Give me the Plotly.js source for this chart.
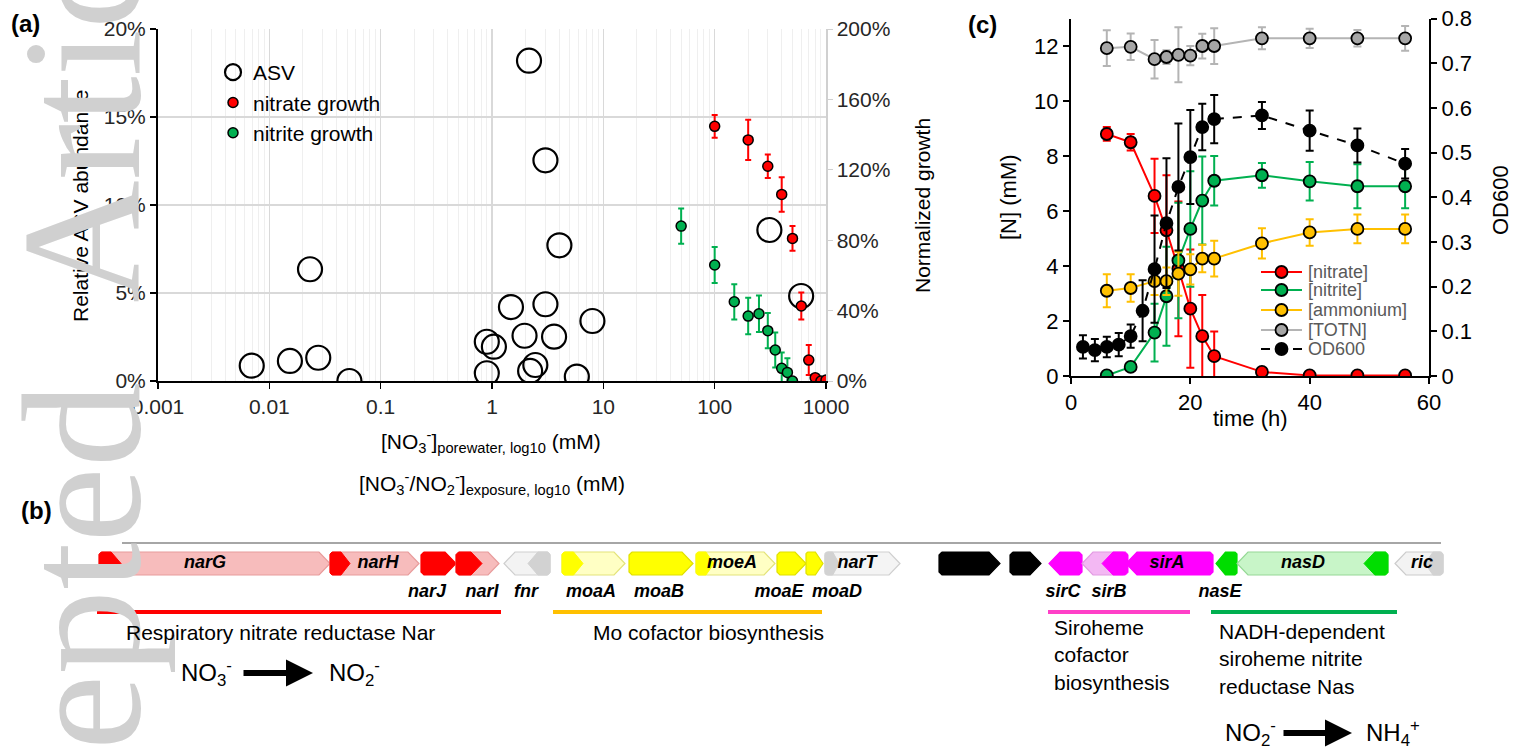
<!DOCTYPE html>
<html>
<head>
<meta charset="utf-8">
<script src="https://cdn.plot.ly/plotly-3.0.1.min.js"></script>
<style>html,body{margin:0;padding:0;background:#fff;}#chart{width:1523px;height:751px;}</style>
</head>
<body>
<div id="chart"></div>
<script>
// ---------------- Panel (a) data ----------------
const asvX = [0.00695, 0.0153, 0.0275, 0.0232, 0.0524, 2.15, 3.02, 4.03, 1.48, 3.02, 7.98, 0.898, 1.04, 1.96, 3.61, 0.898, 2.45, 2.2, 5.78, 310, 598];
const asvY = [0.87, 1.14, 1.32, 6.35, 0.0, 18.2, 12.54, 7.71, 4.2, 4.36, 3.41, 2.23, 1.95, 2.57, 2.52, 0.44, 0.91, 0.57, 0.25, 8.58, 4.83];

const nitrateExpX = [100, 200, 300, 400, 500, 600, 700, 800, 900, 1000];
const nitrateGrowth = [144.7, 137, 122, 106, 81, 42.6, 11.9, 1.9, 0, 0.5];
const nitrateGrowthErr = [6.5, 11.5, 6.7, 9.8, 7, 7.7, 8.5, 0, 0, 0];

const nitriteExpX = [50, 100, 150, 200, 250, 300, 350, 400, 450, 500];
const nitriteGrowth = [88, 65.9, 45, 36.9, 38.2, 28.6, 17.6, 7.2, 4.9, 0];
const nitriteGrowthErr = [10, 10.2, 10, 10.4, 10.4, 10, 10, 9, 8, 0];

const aXTickVals = [0.001, 0.01, 0.1, 1, 10, 100, 1000];
const aXTickText = ['0.001', '0.01', '0.1', '1', '10', '100', '1000'];
const aYTickVals = [0, 5, 10, 15, 20];
const aYTickText = ['0%', '5%', '10%', '15%', '20%'];
const aY2TickVals = [0, 40, 80, 120, 160, 200];
const aY2TickText = ['0%', '40%', '80%', '120%', '160%', '200%'];

// ---------------- Panel (c) data ----------------
const tN = [6, 10, 14, 16, 18, 20, 22, 24, 32, 40, 48, 56];
const nitrate = [8.8, 8.5, 6.55, 5.3, 3.9, 2.45, 1.45, 0.72, 0.15, 0.02, 0.02, 0.02];
const nitrateErr = [0.25, 0.3, 1.35, 2.0, 2.45, 2.15, 1.5, 0.9, 0.1, 0.05, 0.05, 0.05];
const nitrite = [0.02, 0.33, 1.58, 2.9, 4.2, 5.35, 6.38, 7.1, 7.3, 7.08, 6.9, 6.9];
const nitriteErr = [0.05, 0.1, 1.05, 1.8, 2.1, 2.1, 1.6, 0.9, 0.45, 0.7, 0.8, 0.8];
const ammonium = [3.1, 3.2, 3.45, 3.45, 3.72, 3.88, 4.27, 4.27, 4.82, 5.22, 5.35, 5.35];
const ammoniumErr = [0.6, 0.5, 0.5, 0.5, 0.8, 0.55, 0.5, 0.65, 0.55, 0.48, 0.52, 0.52];
const totn = [11.92, 11.97, 11.52, 11.6, 11.68, 11.65, 12.0, 12.0, 12.28, 12.28, 12.28, 12.28];
const totnErr = [0.65, 0.48, 0.7, 0.25, 1.0, 0.35, 0.45, 0.65, 0.4, 0.35, 0.3, 0.45];
const tOD = [2, 4, 6, 8, 10, 12, 14, 16, 18, 20, 22, 24, 32, 40, 48, 56];
const od600 = [0.065, 0.058, 0.065, 0.07, 0.089, 0.146, 0.239, 0.342, 0.423, 0.49, 0.557, 0.575, 0.583, 0.549, 0.516, 0.475];
const od600Err = [0.026, 0.025, 0.023, 0.026, 0.026, 0.068, 0.12, 0.145, 0.142, 0.105, 0.052, 0.054, 0.03, 0.045, 0.038, 0.033];
const cSeriesNames = ['[nitrate]', '[nitrite]', '[ammonium]', '[TOTN]', 'OD600'];

// ---------------- Panel (b) gene map data ----------------
const geneNames  = ['narG','narH','narJ','narI','fnr','moaA','moaB','moeA','moaE','moaD','narT','','','sirC','sirB','sirA','nasE','nasD','ric'];
const geneStart  = [99, 330, 421, 456, 504, 562, 629, 696, 777, 806, 825, 939, 1010, 1049, 1082, 1126, 1216, 1237, 1395];
const geneEnd    = [330, 419, 456, 499, 550, 625, 693, 775, 806, 823, 900, 1000, 1041, 1082, 1126, 1213, 1237, 1388, 1443];
const geneStrand = [1, 1, 1, 1, -1, 1, 1, 1, 1, 1, 1, 1, 1, -1, -1, -1, -1, -1, -1];
const geneFill   = ['#f7bcbc','#f7bcbc','#ff0000','#f7bcbc','#f3f3f3','#ffffc4','#ffff00','#ffffc4','#ffff00','#ffff00','#f4f4f4','#000000','#000000','#ff00ff','#f3b8f3','#ff00ff','#00dd00','#c8f5c8','#f3f3f3'];
const geneStroke = ['#e89c9c','#e89c9c','#ff0000','#e89c9c','#cfcfcf','#e3e37a','#e0e000','#e3e37a','#e0e000','#e0e000','#cfcfcf','#000000','#000000','#ff00ff','#e29be2','#ff00ff','#00dd00','#95d895','#cccccc'];
const domStart   = [99, 330, null, 456, 528, 562, null, 696, null, null, 825, null, null, null, 1102, null, null, 1364, 1425];
const domEnd     = [121, 350, null, 482, 550, 583, null, 714, null, null, 839, null, null, null, 1128, null, null, 1388, 1443];
const domColor   = ['#ff0000','#ff0000',null,'#ff0000','#d2d2d2','#ffff00',null,'#ffff00',null,null,'#d2d2d2',null,null,null,'#ff00ff',null,null,'#00dd00','#d2d2d2'];
const geneLabelX = [205, 378, 427, 482, 526, 591, 659, 732, 779, 837, 857, null, null, 1063, 1109, 1167, 1220, 1303, 1422];
const geneLabelIn = [true, true, false, false, false, false, false, true, false, false, true, null, null, false, false, true, false, true, true];
const contigStart = 122, contigEnd = 1441;
const groupStart = [97, 553, 1048, 1211];
const groupEnd   = [501, 822, 1190, 1397];
const groupColor = ['#ff0000', '#ffc000', '#ff40c8', '#00b050'];

// ---------------- layout constants ----------------
const W = 1523, H = 751;
const px = v => v / W;
const py = v => 1 - v / H;
const FONT = 'Liberation Sans, Arial, sans-serif';
const GENE_TOP = 552, GENE_BOT = 575, BASE_Y = 543, UNDER_Y = 612;
const LEG_C_Y = [272, 290, 310, 330, 349];
const LEG_C_X0 = 1261, LEG_C_X1 = 1302, LEG_C_TX = 1306;

const traces = [];

// Panel (a)
traces.push({
  type: 'scatter', mode: 'markers', name: 'ASV', x: asvX, y: asvY, xaxis: 'x', yaxis: 'y',
  marker: {symbol: 'circle-open', size: 24, color: '#000', line: {width: 2.2, color: '#000'}}
});
traces.push({
  type: 'scatter', mode: 'markers', name: 'nitrate growth', x: nitrateExpX, y: nitrateGrowth, xaxis: 'x', yaxis: 'y4',
  marker: {size: 10, color: '#ff0000', line: {width: 1.5, color: '#000'}},
  error_y: {type: 'data', array: nitrateGrowthErr, color: '#ff0000', thickness: 2, width: 3}
});
traces.push({
  type: 'scatter', mode: 'markers', name: 'nitrite growth', x: nitriteExpX, y: nitriteGrowth, xaxis: 'x', yaxis: 'y4',
  marker: {size: 10, color: '#00b050', line: {width: 1.5, color: '#000'}},
  error_y: {type: 'data', array: nitriteGrowthErr, color: '#00b050', thickness: 2, width: 3}
});

// Panel (c)
const cStyles = [
  {fill: '#ff0000', line: '#ff0000', dash: 'solid'},
  {fill: '#00b050', line: '#00b050', dash: 'solid'},
  {fill: '#ffc000', line: '#ffc000', dash: 'solid'},
  {fill: '#a6a6a6', line: '#b4b4b4', dash: 'solid'},
  {fill: '#000000', line: '#000000', dash: 'dash'}
];
const cX = [tN, tN, tN, tN, tOD];
const cY = [nitrate, nitrite, ammonium, totn, od600];
const cErr = [nitrateErr, nitriteErr, ammoniumErr, totnErr, od600Err];
for (let i = 0; i < 5; i++) {
  const st = cStyles[i];
  traces.push({
    type: 'scatter', mode: 'lines+markers', name: cSeriesNames[i], x: cX[i], y: cY[i],
    xaxis: 'x2', yaxis: i === 4 ? 'y3' : 'y2',
    line: {color: st.line, width: 2, dash: st.dash},
    marker: {size: 12, color: st.fill, line: {width: 1.8, color: '#000'}},
    error_y: {type: 'data', array: cErr[i], color: st.line, thickness: 2, width: 4},
    showlegend: false
  });
}

// Panel (b) gene map (pixel-like map coordinates)
function arrowPoly(s, e, strand, top, bot) {
  const mid = (top + bot) / 2;
  const len = e - s;
  const tip = Math.min(11, len * 0.45);
  const bev = Math.min(3, len * 0.1);
  if (strand > 0) {
    return {x: [s + bev, e - tip, e, e - tip, s + bev, s, s, s + bev],
            y: [top, top, mid, bot, bot, bot - bev, top + bev, top]};
  }
  return {x: [e - bev, s + tip, s, s + tip, e - bev, e, e, e - bev],
          y: [top, top, mid, bot, bot, bot - bev, top + bev, top]};
}
traces.push({
  type: 'scatter', mode: 'lines', x: [contigStart, contigEnd], y: [BASE_Y, BASE_Y], xaxis: 'x3', yaxis: 'y5',
  line: {color: '#a6a6a6', width: 2}, showlegend: false, hoverinfo: 'skip'
});
for (let i = 0; i < geneNames.length; i++) {
  const p = arrowPoly(geneStart[i], geneEnd[i], geneStrand[i], GENE_TOP, GENE_BOT);
  traces.push({
    type: 'scatter', mode: 'lines', x: p.x, y: p.y, xaxis: 'x3', yaxis: 'y5', fill: 'toself',
    fillcolor: geneFill[i], line: {color: geneStroke[i], width: 1.2}, showlegend: false, hoverinfo: 'skip'
  });
  if (domStart[i] !== null) {
    const d = arrowPoly(domStart[i], domEnd[i], geneStrand[i], GENE_TOP, GENE_BOT);
    traces.push({
      type: 'scatter', mode: 'lines', x: d.x, y: d.y, xaxis: 'x3', yaxis: 'y5', fill: 'toself',
      fillcolor: domColor[i], line: {color: domColor[i], width: 1}, showlegend: false, hoverinfo: 'skip'
    });
  }
}
for (let i = 0; i < groupStart.length; i++) {
  traces.push({
    type: 'scatter', mode: 'lines', x: [groupStart[i], groupEnd[i]], y: [UNDER_Y, UNDER_Y], xaxis: 'x3', yaxis: 'y5',
    line: {color: groupColor[i], width: 4}, showlegend: false, hoverinfo: 'skip'
  });
}
const lblX = [], lblY = [], lblT = [];
for (let i = 0; i < geneNames.length; i++) {
  if (!geneNames[i]) continue;
  lblX.push(geneLabelX[i]);
  lblY.push(geneLabelIn[i] ? 563 : 592);
  lblT.push('<b><i>' + geneNames[i] + '</i></b>');
}
traces.push({
  type: 'scatter', mode: 'text', x: lblX, y: lblY, text: lblT, xaxis: 'x3', yaxis: 'y5',
  textfont: {family: FONT, size: 18, color: '#000'}, textposition: 'middle center',
  showlegend: false, hoverinfo: 'skip', cliponaxis: false
});

// Panel (c) legend samples (drawn in the page-pixel overlay axes)
for (let i = 0; i < 5; i++) {
  const st = cStyles[i];
  traces.push({
    type: 'scatter', mode: 'lines', x: [LEG_C_X0, LEG_C_X1], y: [LEG_C_Y[i], LEG_C_Y[i]], xaxis: 'x3', yaxis: 'y5',
    line: {color: st.line, width: 2, dash: i === 4 ? '9px,23px' : 'solid'}, showlegend: false, hoverinfo: 'skip'
  });
  traces.push({
    type: 'scatter', mode: 'markers', x: [(LEG_C_X0 + LEG_C_X1) / 2], y: [LEG_C_Y[i]], xaxis: 'x3', yaxis: 'y5',
    marker: {size: 12, color: st.fill, line: {width: 1.8, color: '#000'}}, showlegend: false, hoverinfo: 'skip'
  });
}

const tickFont = {family: FONT, size: 21, color: '#262626'};
const cTickFont = {family: FONT, size: 22, color: '#000'};
const layout = {
  width: W, height: H,
  margin: {l: 0, r: 0, t: 0, b: 0},
  paper_bgcolor: '#fff', plot_bgcolor: 'rgba(0,0,0,0)',
  font: {family: FONT, color: '#000'},
  showlegend: true,
  xaxis: {
    domain: [px(158), px(826)], anchor: 'y', type: 'log', range: [-3, 3],
    tickvals: aXTickVals, ticktext: aXTickText, tickfont: tickFont,
    showline: true, linecolor: '#000', linewidth: 2, ticks: 'outside', ticklen: 6, tickcolor: '#000', tickwidth: 1.5,
    showgrid: true, gridcolor: '#d9d9d9', gridwidth: 1.2, zeroline: false,
    minor: {showgrid: true, gridcolor: '#efefef', gridwidth: 1, dtick: 'D1', ticks: ''}
  },
  yaxis: {
    domain: [py(381), py(29)], anchor: 'x', range: [0, 20],
    tickvals: aYTickVals, ticktext: aYTickText, tickfont: tickFont,
    showline: true, linecolor: '#000', linewidth: 2, ticks: 'outside', ticklen: 6, tickcolor: '#000', tickwidth: 1.5,
    showgrid: true, gridcolor: '#d9d9d9', gridwidth: 1.2, zeroline: false
  },
  yaxis4: {
    overlaying: 'y', anchor: 'x', side: 'right', range: [0, 200],
    tickvals: aY2TickVals, ticktext: aY2TickText, tickfont: tickFont,
    showline: true, linecolor: '#d0d0d0', linewidth: 1.5, ticks: 'outside', ticklen: 5, tickcolor: '#d0d0d0',
    showgrid: false, zeroline: false
  },
  xaxis2: {
    domain: [px(1071), px(1429)], anchor: 'y2', range: [0, 60], tickvals: [0, 20, 40, 60], tickfont: cTickFont,
    showline: true, linecolor: '#000', linewidth: 2, ticks: 'outside', ticklen: 6, tickcolor: '#000', tickwidth: 2,
    showgrid: false, zeroline: false
  },
  yaxis2: {
    domain: [py(376), py(18.5)], anchor: 'x2', range: [0, 13], tickvals: [0, 2, 4, 6, 8, 10, 12], tickfont: cTickFont,
    showline: true, linecolor: '#000', linewidth: 2, ticks: 'outside', ticklen: 6, tickcolor: '#000', tickwidth: 2,
    showgrid: false, zeroline: false
  },
  yaxis3: {
    overlaying: 'y2', anchor: 'x2', side: 'right', range: [0, 0.8], dtick: 0.1, tickfont: cTickFont,
    showline: true, linecolor: '#000', linewidth: 2, ticks: 'outside', ticklen: 6, tickcolor: '#000', tickwidth: 2,
    showgrid: false, zeroline: false
  },
  xaxis3: {domain: [0, 1], anchor: 'y5', range: [0, W], visible: false, fixedrange: true},
  yaxis5: {domain: [0, 1], anchor: 'x3', range: [H, 0], visible: false, fixedrange: true},
  legend: {
    x: px(213), y: py(52), xanchor: 'left', yanchor: 'top', bgcolor: 'rgba(0,0,0,0)',
    font: {family: FONT, size: 21, color: '#000'}, itemsizing: 'trace', tracegroupgap: 0
  },
  annotations: []
};

const A = layout.annotations;
function txt(text, x, y, opts) {
  A.push(Object.assign({text: text, x: px(x), y: py(y), xref: 'paper', yref: 'paper', showarrow: false,
    xanchor: 'center', yanchor: 'middle', font: {family: FONT, size: 21, color: '#000'}}, opts || {}));
}
// axis titles (a)
txt('Relative ASV abundance', 80, 206, {textangle: -90, font: {family: FONT, size: 21, color: '#000'}});
txt('Normalized growth', 922, 205, {textangle: -90, font: {family: FONT, size: 21, color: '#000'}});
txt('[NO<sub>3</sub><sup>-</sup>]<sub>porewater, log10</sub> (mM)', 491, 441);
txt('[NO<sub>3</sub><sup>-</sup>/NO<sub>2</sub><sup>-</sup>]<sub>exposure, log10</sub> (mM)', 492, 483);
// axis titles (c)
txt('[N] (mM)', 1009, 197, {textangle: -90, font: {family: FONT, size: 22, color: '#000'}});
txt('OD600', 1500, 200, {textangle: -90, font: {family: FONT, size: 22, color: '#000'}});
txt('time (h)', 1250, 418, {font: {family: FONT, size: 22, color: '#000'}});
// legend (c) texts
for (let i = 0; i < 5; i++) {
  txt(cSeriesNames[i], LEG_C_TX, LEG_C_Y[i], {xanchor: 'left', font: {family: FONT, size: 18, color: '#595959'}});
}
// watermark
const wmFont = {family: 'Liberation Serif, serif', size: 170, color: '#d0d0d0'};
txt('Accepted', 82, 703, {textangle: -90, font: wmFont});
txt('Article', 82, 67, {textangle: -90, font: wmFont});
// panel labels
txt('<b>(a)</b>', 25, 23, {font: {family: FONT, size: 24, color: '#000'}});
txt('<b>(b)</b>', 36, 510, {font: {family: FONT, size: 24, color: '#000'}});
txt('<b>(c)</b>', 983, 25, {font: {family: FONT, size: 24, color: '#000'}});
// panel (b) descriptions
txt('Respiratory nitrate reductase Nar', 124, 632, {xanchor: 'left'});
txt('Mo cofactor biosynthesis', 591, 632, {xanchor: 'left'});
txt('Siroheme<br>cofactor<br>biosynthesis', 1052, 655, {xanchor: 'left', align: 'left'});
txt('NADH-dependent<br>siroheme nitrite<br>reductase Nas', 1217, 659, {xanchor: 'left', align: 'left'});
// reactions
const rxFont = {family: FONT, size: 24, color: '#000'};
txt('NO<sub>3</sub><sup>-</sup>', 206, 673, {font: rxFont});
txt('NO<sub>2</sub><sup>-</sup>', 354, 673, {font: rxFont});
txt('NO<sub>2</sub><sup>-</sup>', 1250, 733, {font: rxFont});
txt('NH<sub>4</sub><sup>+</sup>', 1393, 733, {font: rxFont});
function arrow(x0, x1, y) {
  A.push({x: px(x1), y: py(y), xref: 'paper', yref: 'paper', ax: -(x1 - x0), ay: 0, text: '',
    showarrow: true, arrowhead: 2, arrowsize: 0.9, arrowwidth: 6, arrowcolor: '#000', standoff: 0, startstandoff: 0});
}
arrow(242, 313, 673);
arrow(1282, 1352, 733);

Plotly.newPlot('chart', traces, layout, {displayModeBar: false, staticPlot: true});
</script>
</body>
</html>
